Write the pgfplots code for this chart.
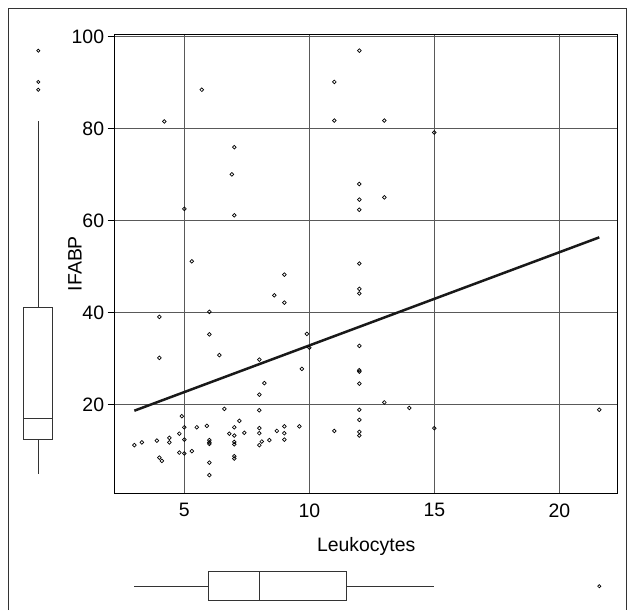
\documentclass[border=0pt]{standalone}
\usepackage{fontspec}
\setmainfont{Liberation Sans}
\usepackage{pgfplots}
\pgfplotsset{compat=1.18}
\usepgfplotslibrary{statistics}
\pgfplotstableread{
x y
5.7 88.5
4.2 81.6
7.0 76.0
6.9 70.1
5.0 62.6
7.0 61.2
12.0 97.0
11.0 90.2
11.0 81.8
13.0 81.8
15.0 79.2
12.0 68.0
12.0 64.6
13.0 65.1
12.0 62.4
5.3 51.2
9.0 48.3
8.6 43.8
9.0 42.2
4.0 39.1
6.0 40.2
6.0 35.3
9.9 35.4
10.0 32.4
6.4 30.8
4.0 30.2
8.0 29.8
9.7 27.8
8.2 24.7
8.0 22.2
6.6 19.1
8.0 18.8
4.9 17.5
12.0 50.7
12.0 45.2
12.0 44.2
12.0 32.8
12.0 27.5
12.0 27.2
12.0 24.6
13.0 20.5
14.0 19.3
21.6 18.9
12.0 18.9
12.0 16.7
11.0 14.3
12.0 14.1
12.0 13.3
15.0 14.9
9.6 15.3
5.0 15.1
5.5 15.1
5.9 15.4
6.8 13.7
4.8 13.7
4.4 12.8
4.4 11.8
5.0 12.4
3.9 12.2
3.3 11.8
3.0 11.2
6.0 12.3
6.0 11.8
6.0 11.5
4.8 9.6
5.0 9.4
5.3 9.9
4.0 8.5
4.1 7.8
6.0 7.4
6.0 4.7
7.2 16.5
7.0 15.1
7.0 13.3
7.0 11.9
7.0 11.4
7.0 8.8
7.0 8.3
7.4 13.9
8.0 14.9
8.0 13.8
8.0 11.2
8.1 12.0
8.4 12.3
8.7 14.3
9.0 15.3
9.0 13.8
9.0 12.4
}\scatterdata
\begin{document}
\begin{tikzpicture}
\path (0,0) rectangle (631bp,-610bp);
% outer frame
\draw[black!80, line width=0.9bp] (8.3bp,-610bp) -- (8.3bp,-8bp) -- (626bp,-8bp) -- (626bp,-610bp);
% main scatter
\begin{axis}[
  at={(114.6bp,-493.1bp)}, anchor=south west,
  scale only axis, width=503.2bp, height=459bp,
  xmin=2.21, xmax=22.34, ymin=0.78, ymax=100.6,
  xtick={5,10,15,20}, ytick={20,40,60,80,100},
  xtick pos=bottom, ytick pos=left,
  tick align=outside, major tick length=7bp,
  xtick style={draw=none},
  ytick style={black, line width=0.8bp},
  grid=major, major grid style={black!65, line width=0.9bp},
  axis line style={black, line width=0.9bp},
  ticklabel style={font=\fontsize{19.5}{23}\selectfont},
  /pgf/number format/assume math mode=true,
  label style={font=\fontsize{19.5}{23}\selectfont},
  xlabel={Leukocytes}, ylabel={IFABP},
  xlabel style={at={(axis description cs:0.5,-0.1277)}, anchor=base},
  ylabel style={at={(axis description cs:-0.0654,0.5)}, anchor=base},
]
\addplot[only marks, mark=o, mark size=1.85bp, mark options={black, line width=0.7bp}] table[x=x,y=y] {\scatterdata};
\addplot[black!90, line width=2.5bp] coordinates {(3.0,18.7) (21.6,56.4)};
\end{axis}
% left boxplot (IFABP)
\begin{axis}[
  at={(18.3bp,-493.1bp)}, anchor=south west,
  scale only axis, width=40bp, height=459bp,
  xmin=-1, xmax=1, ymin=0.78, ymax=100.6,
  hide axis, clip=false,
]
\addplot[black!80, line width=0.9bp, boxplot prepared={draw direction=y, draw position=0,
  lower whisker=4.9, lower quartile=12.5, median=17.1, upper quartile=41.2, upper whisker=81.8,
  box extend=1.45, whisker extend=0}] coordinates {};
\addplot[only marks, mark=o, mark size=1.6bp, mark options={black, line width=0.7bp}] coordinates {(0,97.0) (0,90.2) (0,88.5)};
\end{axis}
% bottom boxplot (Leukocytes)
\begin{axis}[
  at={(114.6bp,-606.2bp)}, anchor=south west,
  scale only axis, width=503.2bp, height=40bp,
  xmin=2.21, xmax=22.34, ymin=-1, ymax=1,
  hide axis, clip=false,
]
\addplot[black!80, line width=0.9bp, boxplot prepared={draw direction=x, draw position=0,
  lower whisker=3.0, lower quartile=5.96, median=8.0, upper quartile=11.5, upper whisker=15.0,
  box extend=1.47, whisker extend=0}] coordinates {};
\addplot[only marks, mark=o, mark size=1.6bp, mark options={black, line width=0.7bp}] coordinates {(21.6,0)};
\end{axis}
\end{tikzpicture}
\end{document}
